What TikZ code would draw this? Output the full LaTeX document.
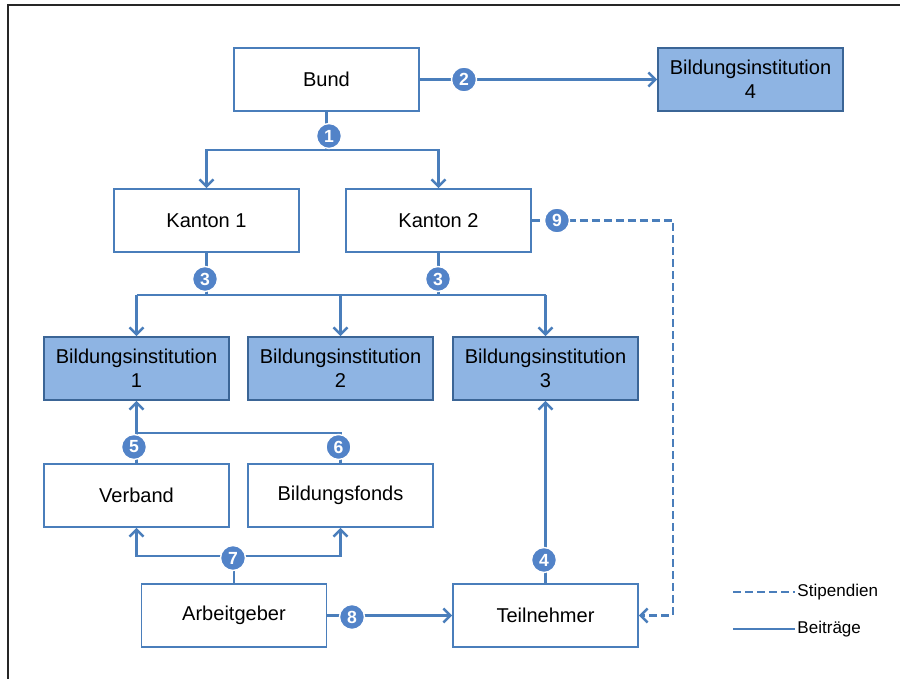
\documentclass[tikz,border=0pt]{standalone}
\usepackage{fontspec}
\setmainfont{Liberation Sans}
\usepackage{tikz}
\usetikzlibrary{arrows.meta,calc}

\definecolor{lineblue}{RGB}{74,126,187}
\definecolor{instblue}{RGB}{142,180,227}
\definecolor{badgeblue}{RGB}{82,131,200}

\begin{document}
\begin{tikzpicture}[thick]
    % `actor' is used for the white boxes, `institution' for the blue ones.
    % `badge' is used for the numbered circles on the lines.
    % `flow' is a contribution, `grant' a scholarship (dashed).
    \tikzstyle{actor} = [draw=lineblue,fill=white,line width=0.9pt,minimum width=3.7cm,minimum height=1.26cm,align=center,font=\fontsize{11.4}{13.6}\selectfont]
    \tikzstyle{institution} = [actor,fill=instblue,draw=lineblue!80!black]
    \tikzstyle{badge} = [circle,fill=badgeblue,draw=white,line width=0.8pt,minimum size=0.5cm,inner sep=0pt,text=white,font=\fontsize{10}{10}\selectfont\bfseries]
    \tikzstyle{flow} = [draw=lineblue,line width=1.4pt,-{Straight Barb[length=1.4mm,width=2.8mm]}]
    \tikzstyle{flowline} = [draw=lineblue,line width=1.4pt]
    \tikzstyle{grant} = [flow,dash pattern=on 1.6mm off 0.8mm]
    \tikzstyle{legend} = [anchor=west,inner sep=1pt,font=\fontsize{9.7}{11}\selectfont]
    %
    \useasboundingbox (0,0) rectangle (18,13.58);
    \draw[line width=0.8pt,black!85] (0.16,0) -- (0.16,13.48) -- (18,13.48);
    %
    \node[actor] (bund) at (6.53,11.99) {Bund};
    \node[institution] (bi4) at (15.01,11.99) {Bildungsinstitution\\4};
    \node[actor] (kanton1) at (4.13,9.17) {Kanton 1};
    \node[actor] (kanton2) at (8.77,9.17) {Kanton 2};
    \node[institution] (bi1) at (2.73,6.21) {Bildungsinstitution\\1};
    \node[institution] (bi2) at (6.81,6.21) {Bildungsinstitution\\2};
    \node[institution] (bi3) at (10.91,6.21) {Bildungsinstitution\\3};
    \node[actor] (verband) at (2.73,3.67) {Verband};
    \node[actor] (fonds) at (6.81,3.67) {Bildungsfonds};
    \node[actor] (arbeitgeber) at (4.68,1.27) {Arbeitgeber};
    \node[actor] (teilnehmer) at (10.91,1.27) {Teilnehmer};
    %
    % Junctions of the lines.
    \coordinate (split1) at (6.53,10.58);
    \coordinate (drop1) at (4.13,7.68);
    \coordinate (drop2) at (8.77,7.68);
    \coordinate (split3l) at (2.73,7.68);
    \coordinate (split3m) at (6.81,7.68);
    \coordinate (split3r) at (10.91,7.68);
    \coordinate (join5) at (2.73,4.92);
    \coordinate (join6) at (6.81,4.92);
    \coordinate (join7) at (4.68,2.46);
    \coordinate (turn9) at (13.46,9.17);
    %
    % Bund.
    \draw[flowline] (bund) -- (split1);
    \draw[flow] (split1) -| (kanton1);
    \draw[flow] (split1) -| (kanton2);
    \draw[flow] (bund) -- (bi4);
    % Kantone.
    \draw[flowline] (kanton1) -- (drop1);
    \draw[flowline] (kanton2) -- (drop2);
    \draw[flowline] (split3l) -- (split3r);
    \draw[flow] (split3l) -- (bi1);
    \draw[flow] (split3m) -- (bi2);
    \draw[flow] (split3r) -- (bi3);
    % Verband and Bildungsfonds.
    \draw[flowline] (verband) -- (join5) -- (join6) -- (fonds);
    \draw[flow] (join5) -- (bi1);
    % Arbeitgeber.
    \draw[flowline] (arbeitgeber) -- (join7);
    \draw[flow] (join7) -| (verband);
    \draw[flow] (join7) -| (fonds);
    \draw[flow] (arbeitgeber) -- (teilnehmer);
    % Teilnehmer.
    \draw[flow] (teilnehmer) -- (bi3);
    \draw[grant] (kanton2) -- (turn9) |- (teilnehmer);
    %
    % Numbers.
    \node[badge] (n1) at (6.58,10.86) {1};
    \node[badge] (n2) at (9.28,11.99) {2};
    \node[badge] (n3a) at (4.10,8.00) {3};
    \node[badge] (n3b) at (8.76,8.00) {3};
    \node[badge] (n4) at (10.88,2.38) {4};
    \node[badge] (n5) at (2.68,4.64) {5};
    \node[badge] (n6) at (6.77,4.64) {6};
    \node[badge] (n7) at (4.66,2.42) {7};
    \node[badge] (n8) at (7.04,1.24) {8};
    \node[badge] (n9) at (11.14,9.17) {9};
    %
    % Legend.
    \coordinate (leg1) at (14.66,1.74);
    \coordinate (leg2) at (14.66,1.00);
    \node[legend] (stip) at (15.90,1.74) {Stipendien};
    \node[legend] (beitr) at (15.90,1.00) {Beiträge};
    \draw[flowline,dash pattern=on 1.6mm off 0.8mm] (leg1) -- (stip);
    \draw[flowline] (leg2) -- (beitr);
\end{tikzpicture}
\end{document}
